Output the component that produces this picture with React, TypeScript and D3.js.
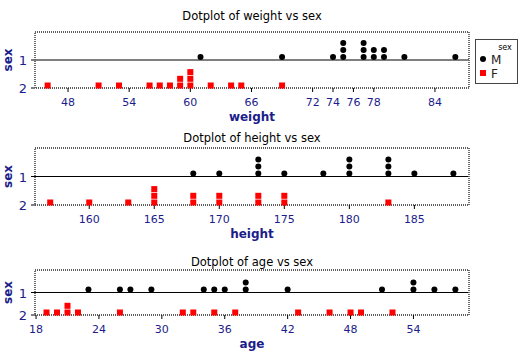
import * as d3 from "d3";

const weightM = [61, 69, 74, 75, 75, 75, 77, 77, 77, 78, 78, 79, 79, 81, 86];
const weightF = [46, 51, 53, 56, 57, 58, 59, 59, 60, 60, 60, 62, 64, 65, 69];
const heightM = [168, 170, 173, 173, 173, 175, 178, 180, 180, 180, 183, 183, 183, 185, 188];
const heightF = [157, 160, 163, 165, 165, 165, 168, 168, 170, 170, 173, 173, 175, 175, 183];
const ageM = [23, 26, 27, 29, 34, 35, 36, 38, 38, 42, 51, 54, 54, 56, 58];
const ageF = [19, 20, 21, 21, 22, 26, 32, 33, 35, 37, 43, 46, 48, 49, 52];

const weightTicks = [48, 54, 60, 66, 72, 74, 76, 78, 84];
const heightTicks = [160, 165, 170, 175, 180, 185];
const ageTicks = [18, 24, 30, 36, 42, 48, 54];

const navy = "#1c1c8a";
const font = "DejaVu Sans, Verdana, sans-serif";

type PanelProps = {
  name: string;
  male: number[];
  female: number[];
  ticks: number[];
  domain: [number, number];
  top: number;
  bottom: number;
  titleY: number;
};

// stack identical values upwards
const stack = (vals: number[]) => {
  const seen = new Map<number, number>();
  return vals.map((v) => {
    const k = seen.get(v) ?? 0;
    seen.set(v, k + 1);
    return { v, k };
  });
};

const Panel = ({ name, male, female, ticks, domain, top, bottom, titleY }: PanelProps) => {
  const left = 35;
  const right = 469;
  const x = d3.scaleLinear().domain(domain).range([left, right]);
  const y = d3.scaleLinear().domain([0, 2]).range([top, bottom]);

  return (
    <g>
      <text x={252} y={titleY} textAnchor="middle" fontSize={11.5} fill="#000" fontFamily={font}>
        Dotplot of {name} vs sex
      </text>
      {/* y = 1 reference line */}
      <line x1={left - 4} x2={right} y1={y(1)} y2={y(1)} stroke="#000" strokeWidth={1} />
      <line x1={left - 4} x2={left} y1={y(2)} y2={y(2)} stroke="#000" strokeWidth={1} />
      <rect
        x={left}
        y={top}
        width={right - left}
        height={bottom - top}
        fill="none"
        stroke="#5e5e5e"
        strokeWidth={1.8}
        strokeDasharray="1 1"
      />
      {ticks.map((t) => (
        <g key={t}>
          <line x1={x(t)} x2={x(t)} y1={bottom} y2={bottom + 4} stroke="#000" />
          <text x={x(t)} y={bottom + 18} textAnchor="middle" fontSize={11} fill={navy} fontFamily={font}>
            {t}
          </text>
        </g>
      ))}
      {[1, 2].map((s) => (
        <text key={s} x={27} y={y(s) + 5} textAnchor="end" fontSize={13} fill={navy} fontFamily={font}>
          {s}
        </text>
      ))}
      <text
        transform={`translate(12,${(top + bottom) / 2}) rotate(-90)`}
        textAnchor="middle"
        fontSize={12}
        fontWeight="bold"
        fill={navy}
        fontFamily={font}
      >
        sex
      </text>
      <text x={252} y={bottom + 33} textAnchor="middle" fontSize={12} fontWeight="bold" fill={navy} fontFamily={font}>
        {name}
      </text>
      {stack(male).map((d, i) => (
        <circle key={"m" + i} cx={x(d.v)} cy={y(1) - 3 - d.k * 7} r={3} fill="#000" />
      ))}
      {stack(female).map((d, i) => (
        <rect key={"f" + i} x={x(d.v) - 3} y={y(2) - 5.5 - d.k * 6.7} width={6} height={6} fill="#ff0000" />
      ))}
    </g>
  );
};

export default function App() {
  return (
    <svg width={528} height={351} style={{ position: "absolute", left: 0, top: 0, background: "#fff" }}>
      <rect width={528} height={351} fill="#fff" />
      <Panel name="weight" male={weightM} female={weightF} ticks={weightTicks} domain={[44.76, 87.34]} top={32} bottom={88} titleY={20} />
      <Panel name="height" male={heightM} female={heightF} ticks={heightTicks} domain={[155.83, 189.2]} top={148} bottom={205} titleY={142} />
      <Panel name="age" male={ageM} female={ageF} ticks={ageTicks} domain={[17.9, 59.3]} top={270} bottom={315} titleY={266} />
      {/* legend */}
      <g fontFamily={font}>
        <rect x={475.5} y={39.5} width={42} height={44} fill="#fff" stroke="#444" />
        <text x={505} y={50} textAnchor="middle" fontSize={8} fill="#000">sex</text>
        <circle cx={483} cy={59} r={3} fill="#000" />
        <text x={491} y={64} fontSize={12} fill="#222">M</text>
        <rect x={480} y={70} width={6} height={6} fill="#ff0000" />
        <text x={491} y={78} fontSize={12} fill="#222">F</text>
      </g>
    </svg>
  );
}
